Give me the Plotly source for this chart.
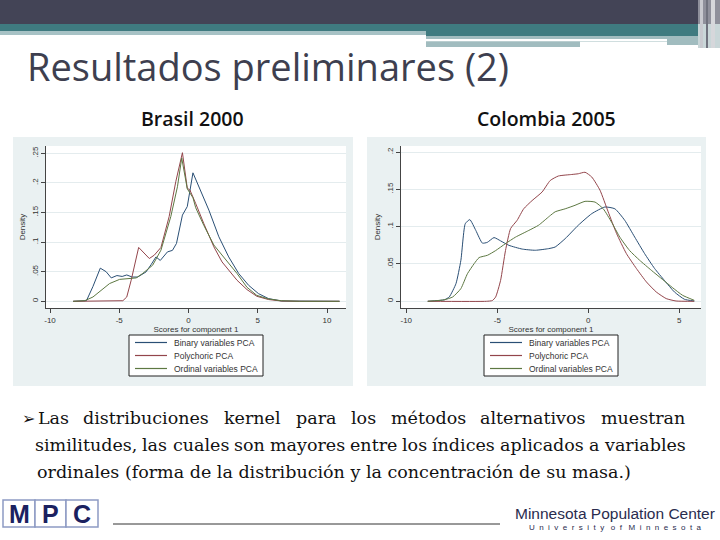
import plotly.graph_objects as go

# ---------------- data ----------------
series_names = ["Binary variables PCA", "Polychoric PCA", "Ordinal variables PCA"]
panel_titles = ["Brasil 2000", "Colombia 2005"]

bra_bin_x = [-8.33, -7.37, -6.9, -6.37, -5.95, -5.58, -5.17, -4.79, -4.46, -4.07, -3.67, -3.07, -2.7,
             -2.35, -2.04, -1.52, -1.16, -0.87, -0.44, -0.09, 0.32, 0.75, 1.47, 2.19, 2.9, 3.62, 4.34,
             5.05, 5.77, 6.72, 8.0, 10.9]
bra_bin_y = [0, 0.001, 0.025, 0.056, 0.05, 0.0395, 0.0435, 0.042, 0.0445, 0.041, 0.041, 0.0496, 0.062,
             0.075, 0.069, 0.0835, 0.086, 0.0977, 0.1456, 0.16, 0.217, 0.1935, 0.154, 0.109, 0.075,
             0.047, 0.027, 0.013, 0.0046, 0.0005, 0.0, 0.0]

bra_pol_x = [-8.33, -5.5, -4.74, -4.46, -4.14, -3.6, -3.2, -2.83, -2.47, -1.99, -1.4, -0.92, -0.44,
             -0.09, 0.1, 0.3, 0.52, 1.11, 1.83, 2.42, 3.5, 4.22, 4.93, 5.77, 6.7, 8.0, 10.9]
bra_pol_y = [0, 0, 0.001, 0.0073, 0.0356, 0.091, 0.082, 0.0723, 0.078, 0.091, 0.143, 0.202, 0.251,
             0.191, 0.188, 0.178, 0.165, 0.131, 0.092, 0.0665, 0.0356, 0.0198, 0.0085, 0.003, 0.0005,
             0, 0]

bra_ord_x = [-8.33, -7.49, -6.9, -6.3, -5.7, -4.98, -4.27, -3.78, -3.31, -2.59, -1.99, -1.28, -0.8,
             -0.49, -0.09, 0.32, 0.52, 1.11, 1.83, 2.42, 2.78, 3.5, 4.22, 4.93, 5.77, 6.7, 8.0, 10.9]
bra_ord_y = [0, 0.001, 0.0073, 0.0186, 0.03, 0.037, 0.0384, 0.0395, 0.047, 0.061, 0.0864, 0.143,
             0.1935, 0.242, 0.19, 0.175, 0.158, 0.128, 0.095, 0.078, 0.069, 0.047, 0.0237, 0.01,
             0.004, 0.001, 0, 0]

col_bin_x = [-8.82, -7.91, -7.64, -7.27, -7.0, -6.76, -6.51, -6.18, -5.82, -5.55, -5.18, -4.82, -4.36,
             -3.63, -2.91, -2.18, -1.82, -1.27, -0.55, 0.19, 0.91, 1.46, 2.0, 2.55, 3.09, 3.64, 4.18,
             4.73, 5.28, 5.82]
col_bin_y = [0, 0.002, 0.0058, 0.0237, 0.055, 0.104, 0.1095, 0.095, 0.078, 0.079, 0.0854, 0.081,
             0.075, 0.070, 0.0684, 0.0706, 0.0728, 0.084, 0.102, 0.1175, 0.1264, 0.124, 0.1086,
             0.086, 0.064, 0.044, 0.028, 0.0125, 0.0027, 0.0004]

col_pol_x = [-8.82, -5.6, -5.27, -5.09, -4.82, -4.55, -4.27, -3.91, -3.55, -3.09, -2.54, -2.09,
             -1.64, -0.91, -0.55, -0.18, 0.19, 0.64, 1.09, 1.55, 2.09, 2.64, 3.19, 3.73, 4.28,
             4.82, 5.82]
col_pol_y = [0, 0, 0.001, 0.0058, 0.028, 0.068, 0.0975, 0.1086, 0.124, 0.135, 0.1465, 0.162,
             0.168, 0.170, 0.171, 0.173, 0.1666, 0.149, 0.12, 0.091, 0.064, 0.044, 0.026, 0.0125,
             0.0036, 0.0004, 0]

col_ord_x = [-8.82, -7.91, -7.45, -7.0, -6.64, -6.27, -6.0, -5.54, -5.09, -4.55, -4.0, -3.27, -2.73,
             -2.14, -1.82, -1.27, -0.73, -0.18, 0.37, 0.82, 1.28, 1.73, 2.27, 2.82, 3.46, 4.09,
             4.64, 5.18, 5.82]
col_ord_y = [0, 0.002, 0.0058, 0.017, 0.037, 0.0505, 0.0586, 0.0617, 0.068, 0.0773, 0.086, 0.095,
             0.102, 0.114, 0.12, 0.124, 0.1287, 0.134, 0.133, 0.124, 0.106, 0.086, 0.068, 0.055,
             0.0416, 0.029, 0.018, 0.008, 0.0013]

bra_xticks = [-10, -5, 0, 5, 10]
bra_yticks = [0, 0.05, 0.1, 0.15, 0.2, 0.25]
bra_yticktext = ["0", ".05", ".1", ".15", ".2", ".25"]
col_xticks = [-10, -5, 0, 5]
col_yticks = [0, 0.05, 0.1, 0.15, 0.2]
col_yticktext = ["0", ".05", ".1", ".15", ".2"]

title_text = "Resultados preliminares (2)"
body_line1 = "Las distribuciones kernel para los métodos alternativos muestran"
body_line2 = "similitudes, las cuales son mayores entre los índices aplicados a variables"
body_line3 = "ordinales (forma de la distribución y la concentración de su masa.)"

colors = ["#2a4f75", "#93454b", "#5d7842"]

# ---------------- helpers (pixel -> paper) ----------------
W, H = 720, 540
def px(x): return x / W
def py(y): return 1 - y / H

fig = go.Figure()

for xs, ys, c, n in [(bra_bin_x, bra_bin_y, colors[0], series_names[0]),
                     (bra_pol_x, bra_pol_y, colors[1], series_names[1]),
                     (bra_ord_x, bra_ord_y, colors[2], series_names[2])]:
    fig.add_trace(go.Scatter(x=xs, y=ys, mode="lines", name=n, showlegend=False,
                             line=dict(color=c, width=1), xaxis="x", yaxis="y"))
for xs, ys, c, n in [(col_bin_x, col_bin_y, colors[0], series_names[0]),
                     (col_pol_x, col_pol_y, colors[1], series_names[1]),
                     (col_ord_x, col_ord_y, colors[2], series_names[2])]:
    fig.add_trace(go.Scatter(x=xs, y=ys, mode="lines", name=n, showlegend=False,
                             line=dict(color=c, width=1, shape="spline", smoothing=0.5),
                             xaxis="x2", yaxis="y2"))

shapes = []
annotations = []

def rect(x0, y0, x1, y1, fill, line=None, lw=0, layer="below"):
    shapes.append(dict(type="rect", xref="paper", yref="paper",
                       x0=px(x0), x1=px(x1), y0=py(y1), y1=py(y0),
                       fillcolor=fill, line=dict(color=line or fill, width=lw), layer=layer))

def hline(x0, x1, y, color, lw=1, layer="above"):
    shapes.append(dict(type="line", xref="paper", yref="paper",
                       x0=px(x0), x1=px(x1), y0=py(y), y1=py(y),
                       line=dict(color=color, width=lw), layer=layer))

def text(x, y, s, size, color="#000", family="Liberation Sans", xanchor="center", yanchor="middle",
         weight=None):
    f = dict(size=size, color=color, family=family)
    if weight:
        f["weight"] = weight
    annotations.append(dict(x=px(x), y=py(y), xref="paper", yref="paper", text=s, showarrow=False,
                            xanchor=xanchor, yanchor=yanchor, font=f))

# approximate DejaVu Serif advance widths (em) for justification of the paragraph
CW = {'a': .596, 'b': .640, 'c': .560, 'd': .640, 'e': .592, 'f': .370, 'g': .640, 'h': .644,
      'i': .320, 'j': .310, 'k': .606, 'l': .320, 'm': .948, 'n': .644, 'o': .602, 'p': .640,
      'q': .640, 'r': .478, 's': .513, 't': .402, 'u': .644, 'v': .565, 'w': .856, 'x': .564,
      'y': .565, 'z': .527, 'é': .592, 'í': .320, 'ó': .602, ',': .318, '.': .318, '(': .390,
      ')': .390, 'L': .648}
def wwidth(word, size):
    return sum(CW.get(ch, .6) for ch in word) * size

def justify(line, x0, x1, y, size, family, color):
    words = line.split(" ")
    widths = [wwidth(w, size) for w in words]
    gap = (x1 - x0 - sum(widths)) / (len(words) - 1)
    x = x0
    for w, wd in zip(words, widths):
        text(x + wd / 2, y, w, size, color=color, family=family)
        x += wd + gap

# ---- top decoration ----
rect(0, 0, 720, 24, "#434456")
rect(0, 24, 426, 31, "#3f7b80")
rect(0, 31, 426, 35, "#a7c2c5")
rect(426, 24, 698, 36, "#3f7b80")
rect(426, 36, 698, 42, "#a1bcbf")
rect(426, 39, 667, 41.5, "#ffffff")
rect(426, 41.5, 580, 47, "#a1bcbf")
rect(667, 41.5, 698, 45, "#a1bcbf")
rect(698, 0, 720, 24, "#8f909b")
rect(698, 24, 720, 48, "#c9d6d8")
rect(700, 0, 703, 48, "#c8c9cf")
rect(706, 0, 708, 48, "#70727e")
rect(711, 0, 715, 48, "#d6d7db")

# ---- graph regions ----
for (gx0, gx1) in [(13, 353), (367, 706)]:
    rect(gx0, 137, gx1, 386, "#eaf1f2")
rect(46, 146, 346, 308, "#ffffff")
rect(401, 146, 701, 308, "#ffffff")

# ---- manual legends ----
for lx in [129, 484]:
    rect(lx, 335, lx + 134, 376, "#ffffff", line="#222222", lw=1, layer="above")
    for i, (c, n) in enumerate(zip(colors, series_names)):
        yy = 342.5 + i * 13
        hline(lx + 6, lx + 38, yy, c, lw=1.2)
        text(lx + 43, yy, n, 8.5, color="#333333", xanchor="left")

# ---- titles ----
text(25, 66, title_text, 38, color="#3e3f4f", family="Open Sans", xanchor="left")
text(192, 119, panel_titles[0], 19.5, color="#111111", family="Open Sans", weight=600)
text(546, 119, panel_titles[1], 19.5, color="#111111", family="Open Sans", weight=600)

# ---- body text ----
serif = "DejaVu Serif"
bsize = 17.5
bcol = "#111111"
text(28, 418, "➢", 16, color=bcol, family="DejaVu Sans")
justify(body_line1, 38, 685, 418, bsize, serif, bcol)
justify(body_line2, 35, 685, 445, bsize, serif, bcol)
text(35, 472, body_line3, bsize, color=bcol, family=serif, xanchor="left")

# ---- footer ----
for (bx0, bx1, letter) in [(3, 35, "M"), (35, 66, "P"), (66, 98, "C")]:
    rect(bx0, 500, bx1, 527, "#ffffff", line="#8d9bc4", lw=1.5, layer="above")
    text((bx0 + bx1) / 2, 514, "<b>" + letter + "</b>", 25, color="#1b2160", family="Liberation Sans")
hline(113, 500, 524, "#333333", lw=1)
text(615, 513, "Minnesota Population Center", 15.5, color="#2a2c4e", family="Liberation Sans")
uni = "&nbsp;&nbsp;&nbsp;".join(["&nbsp; ".join(list(w)) for w in ["University", "of", "Minnesota"]])
text(615, 527, uni, 8, color="#2a2c4e", family="Liberation Sans")

axis_font = dict(size=8, color="#333333", family="Liberation Sans")
common_x = dict(ticks="outside", ticklen=4, tickcolor="#444444", showline=True, linecolor="#444444",
                linewidth=1, showgrid=False, zeroline=False, tickfont=axis_font, automargin=False,
                fixedrange=True)
common_y = dict(ticks="outside", ticklen=4, tickcolor="#444444", showline=True, linecolor="#444444",
                linewidth=1, showgrid=True, gridcolor="#e4ecee", gridwidth=1, zeroline=False,
                tickfont=axis_font, tickangle=-90, automargin=False, fixedrange=True)
tfont = dict(size=8, color="#333333", family="Liberation Sans")

fig.update_layout(
    width=W, height=H, margin=dict(l=0, r=0, t=0, b=0),
    paper_bgcolor="#ffffff", plot_bgcolor="rgba(0,0,0,0)", showlegend=False,
    xaxis=dict(domain=[px(46), px(346)], range=[-10.29, 11.37], tickvals=bra_xticks,
               ticktext=[str(v) for v in bra_xticks], anchor="y",
               title=dict(text="Scores for component 1", font=tfont, standoff=2), **common_x),
    yaxis=dict(domain=[py(308), py(146)], range=[-0.0113, 0.2623], tickvals=bra_yticks,
               ticktext=bra_yticktext, anchor="x",
               title=dict(text="Density", font=tfont, standoff=3), **common_y),
    xaxis2=dict(domain=[px(401), px(701)], range=[-10.29, 6.19], tickvals=col_xticks,
                ticktext=[str(v) for v in col_xticks], anchor="y2",
                title=dict(text="Scores for component 1", font=tfont, standoff=2), **common_x),
    yaxis2=dict(domain=[py(308), py(146)], range=[-0.009, 0.2082], tickvals=col_yticks,
                ticktext=col_yticktext, anchor="x2",
                title=dict(text="Density", font=tfont, standoff=3), **common_y),
    shapes=shapes, annotations=annotations,
)

fig.write_html("out.html", config={"displayModeBar": False},
               post_script="document.body.style.margin='0';")
